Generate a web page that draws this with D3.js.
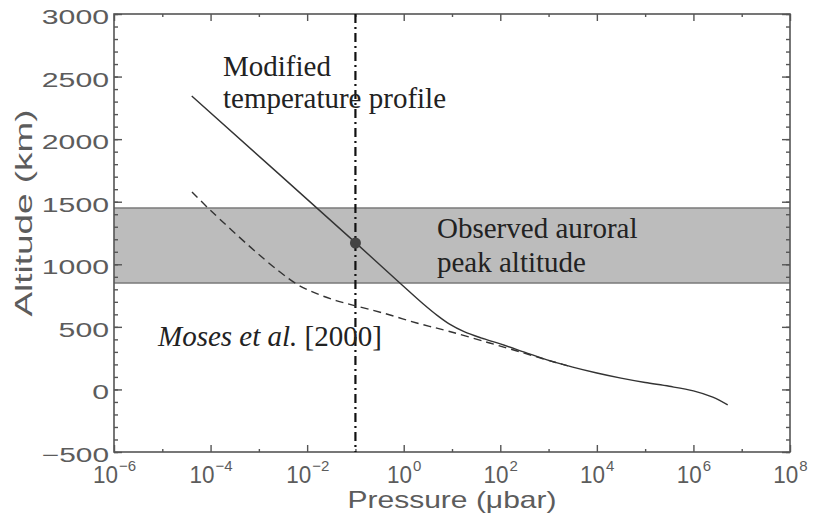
<!DOCTYPE html>
<html><head><meta charset="utf-8">
<script src="https://cdn.jsdelivr.net/npm/d3@7"></script>
<style>body{margin:0;background:#fff}</style></head>
<body><svg id="c" width="813" height="514"></svg>
<script>
// ---- data ----
const modifiedLogP = [-4.39, -1.0, -0.08, 0.4, 0.7, 0.95, 1.25, 1.6, 2.0, 2.5, 3.0, 3.5, 4.0, 4.5, 5.0, 5.5, 6.0, 6.4, 6.71];
const modifiedAlt  = [2345, 1173, 851, 685, 590, 522, 462, 412, 364, 298, 232, 178, 131, 90, 55, 25, -12, -62, -124];
const mosesLogP = [-4.385, -4.01, -3.18, -2.6, -2.2, -1.8, -1.4, -1.0, -0.43, 0.27, 0.93, 1.78, 2.47, 3.0, 3.4];
const mosesAlt  = [1578, 1434, 1139, 950, 838, 765, 710, 668, 611, 531, 465, 371, 293, 232, 188];
const bandAlt = [850, 1450];
const markerPressure = 0.1;
const markerAlt = 1170;
const yTickLabels = [-500, 0, 500, 1000, 1500, 2000, 2500, 3000];
const xTickExps = [-6, -4, -2, 0, 2, 4, 6, 8];
const annotations = ["Modified", "temperature profile", "Observed auroral", "peak altitude"];

// ---- layout ----
const svg = d3.select("#c");
const L = 114, R = 790, T = 14, B = 452;
const x = d3.scaleLog().domain([1e-6, 1e8]).range([L, R]);
const y = d3.scaleLinear().domain([-500, 3000]).range([B, T]);
const axisColor = "#555";
const textColor = "#5c5c5c";

// band
svg.append("rect")
  .attr("x", L).attr("width", R - L)
  .attr("y", y(bandAlt[1])).attr("height", y(bandAlt[0]) - y(bandAlt[1]))
  .attr("fill", "#bcbcbc");
[bandAlt[0], bandAlt[1]].forEach(a => svg.append("line")
  .attr("x1", L).attr("x2", R).attr("y1", y(a)).attr("y2", y(a))
  .attr("stroke", "#7a7a7a").attr("stroke-width", 1.6));

// ticks
const decades = d3.range(-6, 9).map(e => Math.pow(10, e));
const majDec = decades.filter((d, i) => i % 2 === 0);
const minDec = decades.filter((d, i) => i % 2 === 1);
const yMinor = d3.range(-500, 3001, 100);
const yMajor = d3.range(-500, 3001, 500);
function styleAxis(g) {
  g.select(".domain").remove();
  g.selectAll(".tick line").attr("stroke", axisColor).attr("stroke-width", 1.4);
  g.selectAll(".tick text").remove();
}
svg.append("g").attr("transform", `translate(0,${B})`).call(d3.axisBottom(x).tickValues(majDec).tickSize(-7).tickFormat("")).call(styleAxis);
svg.append("g").attr("transform", `translate(0,${B})`).call(d3.axisBottom(x).tickValues(minDec).tickSize(-3).tickFormat("")).call(styleAxis);
svg.append("g").attr("transform", `translate(0,${T})`).call(d3.axisTop(x).tickValues(majDec).tickSize(-7).tickFormat("")).call(styleAxis);
svg.append("g").attr("transform", `translate(0,${T})`).call(d3.axisTop(x).tickValues(minDec).tickSize(-3).tickFormat("")).call(styleAxis);
svg.append("g").attr("transform", `translate(${L},0)`).call(d3.axisLeft(y).tickValues(yMinor).tickSize(-4).tickFormat("")).call(styleAxis);
svg.append("g").attr("transform", `translate(${L},0)`).call(d3.axisLeft(y).tickValues(yMajor).tickSize(-8).tickFormat("")).call(styleAxis);
svg.append("g").attr("transform", `translate(${R},0)`).call(d3.axisRight(y).tickValues(yMinor).tickSize(-4).tickFormat("")).call(styleAxis);
svg.append("g").attr("transform", `translate(${R},0)`).call(d3.axisRight(y).tickValues(yMajor).tickSize(-8).tickFormat("")).call(styleAxis);

// frame
svg.append("rect").attr("x", L).attr("y", T).attr("width", R - L).attr("height", B - T)
  .attr("fill", "none").attr("stroke", axisColor).attr("stroke-width", 1.6);

// y tick labels
svg.append("g").selectAll("text").data(yTickLabels).join("text")
  .attr("x", 109).attr("y", d => y(d) + 10)
  .attr("text-anchor", "end")
  .attr("font-family", "Liberation Sans, Arial, sans-serif")
  .attr("font-size", 20).attr("fill", textColor)
  .attr("textLength", d => String(d).length * 16.8)
  .attr("lengthAdjust", "spacingAndGlyphs")
  .text(d => d < 0 ? "\u2212" + Math.abs(d) : d);

// x tick labels
const xl = svg.append("g");
xTickExps.forEach(e => {
  const cx = x(Math.pow(10, e));
  const expStr = e < 0 ? "\u2212" + Math.abs(e) : String(e);
  const expW = expStr.length * 8.5;
  const baseW = 25;
  const left = cx - (baseW + expW) / 2;
  xl.append("text").attr("x", left).attr("y", 483)
    .attr("font-family", "Liberation Sans, Arial, sans-serif").attr("font-size", 24)
    .attr("fill", textColor).attr("textLength", baseW).attr("lengthAdjust", "spacingAndGlyphs").text("10");
  xl.append("text").attr("x", left + baseW + 1).attr("y", 471)
    .attr("font-family", "Liberation Sans, Arial, sans-serif").attr("font-size", 15)
    .attr("fill", textColor).text(expStr);
});

// axis titles
svg.append("text").attr("x", 452).attr("y", 508).attr("text-anchor", "middle")
  .attr("font-family", "Liberation Sans, Arial, sans-serif").attr("font-size", 24)
  .attr("fill", textColor).attr("textLength", 209).attr("lengthAdjust", "spacingAndGlyphs")
  .text("Pressure (\u03bcbar)");
svg.append("text").attr("transform", "translate(32,213) rotate(-90)").attr("text-anchor", "middle")
  .attr("font-family", "Liberation Sans, Arial, sans-serif").attr("font-size", 24)
  .attr("fill", textColor).attr("textLength", 207).attr("lengthAdjust", "spacingAndGlyphs")
  .text("Altitude (km)");

// vertical dash-dot line
svg.append("line").attr("x1", x(markerPressure)).attr("x2", x(markerPressure))
  .attr("y1", T).attr("y2", B).attr("stroke", "#111").attr("stroke-width", 2.2)
  .attr("stroke-dasharray", "9,4,2,4");

// curves
const line = d3.line().x(d => x(Math.pow(10, d[0]))).y(d => y(d[1])).curve(d3.curveCatmullRom.alpha(0.5));
svg.append("path").datum(mosesLogP.map((p, i) => [p, mosesAlt[i]]))
  .attr("d", line).attr("fill", "none").attr("stroke", "#333").attr("stroke-width", 1.4)
  .attr("stroke-dasharray", "8,5");
svg.append("path").datum(modifiedLogP.map((p, i) => [p, modifiedAlt[i]]))
  .attr("d", line).attr("fill", "none").attr("stroke", "#333").attr("stroke-width", 1.4);

// marker
svg.append("circle").attr("cx", x(markerPressure)).attr("cy", y(markerAlt)).attr("r", 5.5).attr("fill", "#444");

// annotations
const serif = "Liberation Serif, Times New Roman, serif";
const ann = [[223, 76, annotations[0]], [223, 108, annotations[1]], [437, 238, annotations[2]], [437, 272, annotations[3]]];
ann.forEach(a => svg.append("text").attr("x", a[0]).attr("y", a[1])
  .attr("font-family", serif).attr("font-size", 29).attr("fill", "#222").text(a[2]));
const moses = svg.append("text").attr("x", 158).attr("y", 346)
  .attr("font-family", serif).attr("font-size", 29).attr("fill", "#222");
moses.append("tspan").attr("font-style", "italic").text("Moses et al.");
moses.append("tspan").text(" [2000]");
</script></body></html>
